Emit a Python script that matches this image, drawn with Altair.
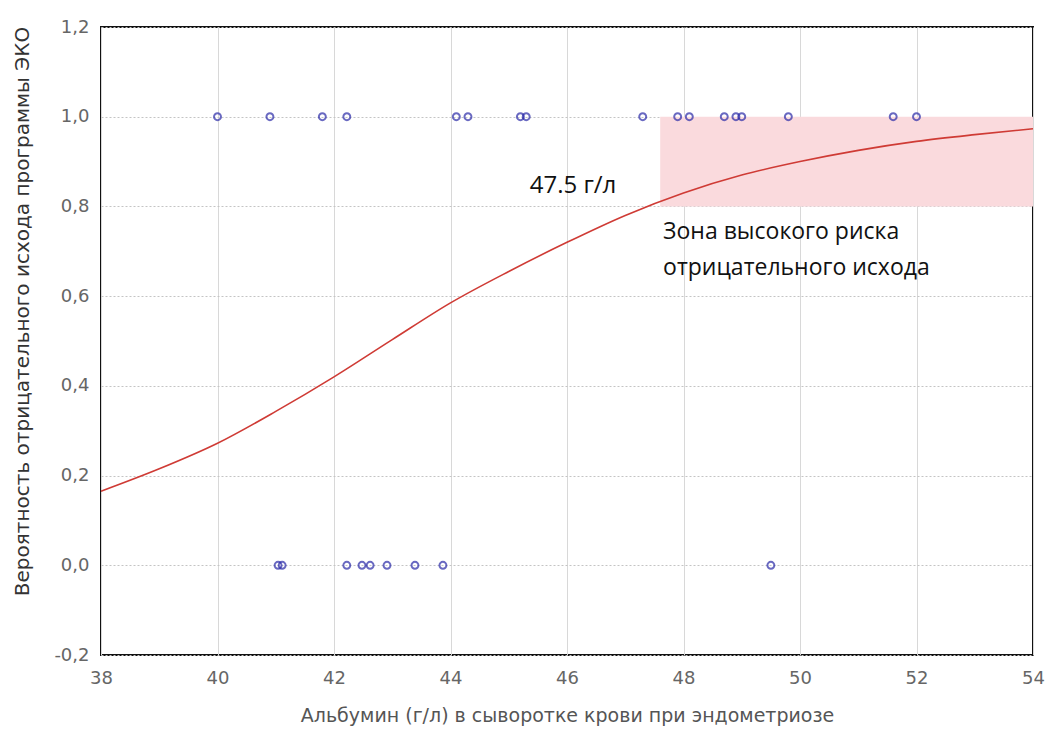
import altair as alt
import pandas as pd

# observed cases (albumin, outcome)
pos_x = [40.0, 40.9, 41.8, 42.22, 44.1, 44.3, 45.2, 45.3, 47.3, 47.9, 48.1, 48.7, 48.9, 49.0, 49.8, 51.6, 52.0]
neg_x = [41.04, 41.11, 42.22, 42.48, 42.62, 42.91, 43.39, 43.87, 49.5]

# fitted curve
curve_x = [38, 39, 40, 41, 42, 43, 44, 45, 46, 47, 48, 49, 50, 51, 52, 53, 54]
curve_y = [0.165, 0.215, 0.272, 0.343, 0.42, 0.503, 0.585, 0.655, 0.72, 0.78, 0.83, 0.87, 0.90, 0.925, 0.945, 0.96, 0.973]

zone_x = [47.6, 54.0]
zone_y = [0.8, 1.0]

pts = pd.DataFrame({"x": pos_x + neg_x, "y": [1.0] * len(pos_x) + [0.0] * len(neg_x)})
curve = pd.DataFrame({"x": curve_x, "y": curve_y})
zone = pd.DataFrame({"x": [zone_x[0]], "x2": [zone_x[1]], "y": [zone_y[0]], "y2": [zone_y[1]]})
ann = pd.DataFrame({"x": [45.36, 47.65, 47.65], "y": [0.846, 0.742, 0.662],
                    "t": ["47.5 г/л", "Зона высокого риска", "отрицательного исхода"],
                    "s": [24, 23, 23]})

xs = alt.Scale(domain=[38, 54], nice=False, zero=False)
ys = alt.Scale(domain=[-0.2, 1.2], nice=False, zero=False)

xaxis = alt.Axis(title="Альбумин (г/л) в сыворотке крови при эндометриозе", values=list(range(38, 55, 2)),
                 format="d", labelFlush=False,
                 grid=True, gridColor="#d8d8d8", gridWidth=1,
                 labelFont="DejaVu Sans", labelFontSize=18, labelColor="#666666", labelPadding=14,
                 ticks=False,
                 titleFont="DejaVu Sans", titleFontSize=19, titleFontWeight="normal", titleColor="#555555",
                 titleY=60, titleBaseline="middle", domain=False)
yaxis = alt.Axis(title="Вероятность отрицательного исхода программы ЭКО",
                 values=[-0.2, 0.0, 0.2, 0.4, 0.6, 0.8, 1.0, 1.2],
                 labelExpr="replace(replace(format(datum.value, '.1f'), '.', ','), '\u2212', '-')",
                 labelFlush=False,
                 grid=True, gridColor="#c4c4c4", gridDash=[2, 2], gridWidth=1,
                 labelFont="DejaVu Sans", labelFontSize=18, labelColor="#666666", labelPadding=12,
                 ticks=False,
                 titleFont="DejaVu Sans", titleFontSize=20, titleFontWeight="normal", titleColor="#333333",
                 titleX=-79, titleY=284, titleAngle=-90, titleAlign="center", titleBaseline="middle",
                 domain=False)

rect = alt.Chart(zone).mark_rect(color="#fadadd", opacity=1).encode(
    x=alt.X("x:Q", scale=xs, axis=xaxis), x2="x2:Q",
    y=alt.Y("y:Q", scale=ys, axis=yaxis), y2="y2:Q")

line = alt.Chart(curve).mark_line(color="#cf3b35", strokeWidth=1.6, interpolate="monotone").encode(
    x=alt.X("x:Q", scale=xs), y=alt.Y("y:Q", scale=ys))

points = alt.Chart(pts).mark_point(shape="circle", filled=False, color="#2a2aa8", size=48, strokeWidth=2).encode(
    x=alt.X("x:Q", scale=xs), y=alt.Y("y:Q", scale=ys))

text = alt.Chart(ann).mark_text(align="left", baseline="middle", font="Open Sans", color="#111111").encode(
    x=alt.X("x:Q", scale=xs), y=alt.Y("y:Q", scale=ys), text="t:N",
    size=alt.Size("s:Q", scale=None, legend=None))

chart = alt.layer(rect, line, points, text).properties(
    width=932, height=628,
    autosize=alt.AutoSizeParams(type="none"),
    padding={"left": 101, "top": 27, "right": 15, "bottom": 76},
    background="white",
).configure_view(stroke="#111111", strokeWidth=2)

chart.save("out.html", embed_options={"renderer": "svg", "actions": False})
